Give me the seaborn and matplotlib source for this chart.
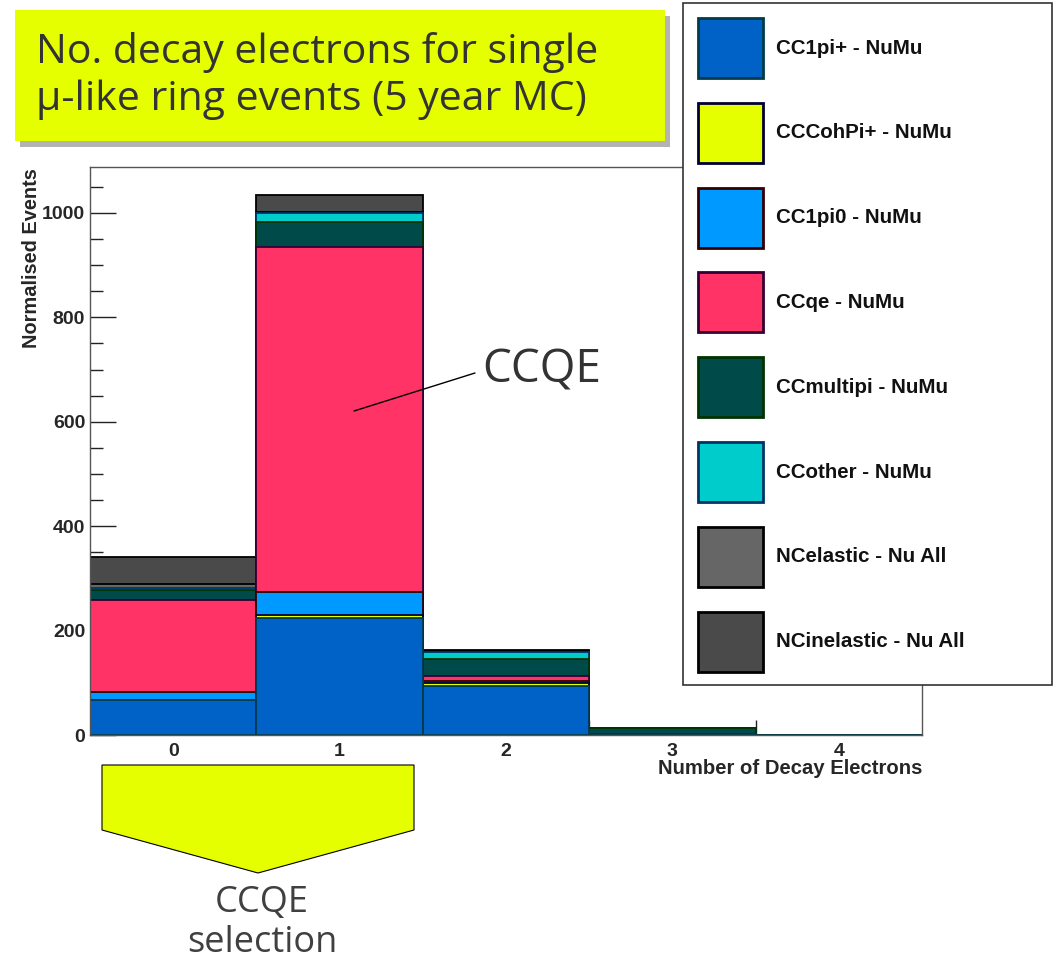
import numpy as np
import pandas as pd
import seaborn as sns
import matplotlib
matplotlib.use("Agg")
import matplotlib.pyplot as plt
from matplotlib.patches import Rectangle, Polygon
from matplotlib.lines import Line2D
from matplotlib.ticker import MultipleLocator, FixedLocator

# ---- data: stacked event counts per number of decay electrons ----
n_decay_e = [0, 1, 2, 3, 4]
cc1pip      = [67, 224, 93, 1, 0]
cccohpip    = [1, 6, 7, 0, 0]
cc1pi0      = [15, 44, 3, 0, 0]
ccqe        = [176, 661, 10, 0, 0]
ccmultipi   = [19, 48, 33, 12, 0]
ccother     = [4, 16, 13, 1, 0]
ncelastic   = [8, 3, 1, 0, 0]
ncinelastic = [51, 33, 2, 0, 0]

modes = ["CC1pi+ - NuMu", "CCCohPi+ - NuMu", "CC1pi0 - NuMu", "CCqe - NuMu",
         "CCmultipi - NuMu", "CCother - NuMu", "NCelastic - Nu All",
         "NCinelastic - Nu All"]
counts = [cc1pip, cccohpip, cc1pi0, ccqe, ccmultipi, ccother, ncelastic, ncinelastic]
fills = ["#0062C6", "#E6FF00", "#0099FF", "#FF3366",
         "#004A4A", "#00CCCC", "#666666", "#4A4A4A"]
edges = ["#003B4A", "#000033", "#330000", "#330033",
         "#003300", "#003366", "#000000", "#000000"]

title_text = "No. decay electrons for single\nμ-like ring events (5 year MC)"
x_label = "Number of Decay Electrons"
y_label = "Normalised Events"

W, H = 1054, 960
sns.set_style("ticks")
plt.rcParams["font.family"] = ["Liberation Sans", "DejaVu Sans"]

fig = plt.figure(figsize=(W / 100, H / 100), dpi=100)


def fx(x):
    return x / W


def fy(y):
    return 1 - y / H


ax = fig.add_axes([fx(90), fy(735), fx(922) - fx(90), fy(167) - fy(735)])

# stacked histogram drawn as cumulative layers, tallest first
df = pd.DataFrame({m: c for m, c in zip(modes, counts)}, index=n_decay_e)
cum = df.cumsum(axis=1)
for i in reversed(range(len(modes))):
    sns.barplot(x=n_decay_e, y=cum[modes[i]].values, color=fills[i],
                edgecolor=edges[i], linewidth=1.3, width=1.0, saturation=1,
                errorbar=None, ax=ax, zorder=2)

ax.set_xlim(-0.5, 4.5)
ax.set_ylim(0, 1088)
ax.xaxis.set_major_locator(FixedLocator(n_decay_e))
ax.set_xticklabels([str(v) for v in n_decay_e])
ax.xaxis.set_minor_locator(FixedLocator([v + 0.5 for v in n_decay_e[:-1]]))
ax.yaxis.set_major_locator(MultipleLocator(200))
ax.yaxis.set_minor_locator(MultipleLocator(50))
ax.tick_params(axis="x", which="major", length=0, pad=6, labelsize=14)
ax.tick_params(axis="x", which="minor", direction="in", length=11, width=1,
               color="#222222")
ax.tick_params(axis="y", which="major", direction="in", length=18.5, width=1,
               pad=3.5, labelsize=14, color="#222222")
ax.tick_params(axis="y", which="minor", direction="in", length=9.5, width=1,
               color="#222222")
for lab in ax.get_xticklabels() + ax.get_yticklabels():
    lab.set_fontweight("bold")
for s in ax.spines.values():
    s.set_linewidth(1.0)
    s.set_color("#555555")
    s.set_zorder(5)
ax.set_xlabel("")
ax.set_ylabel("")

fig.text(fx(922), fy(769), x_label, ha="right", va="center",
         fontsize=14.6, fontweight="bold")
fig.text(fx(32), fy(168), y_label, ha="center", va="top", rotation=90,
         fontsize=14.4, fontweight="bold")

# ---- title box with drop shadow ----
fig.patches.append(Rectangle((fx(20), fy(147)), fx(670) - fx(20), fy(16) - fy(147),
                             transform=fig.transFigure, facecolor="#B3B3B3",
                             edgecolor="none", zorder=1))
fig.patches.append(Rectangle((fx(15), fy(141)), fx(665) - fx(15), fy(10) - fy(141),
                             transform=fig.transFigure, facecolor="#E6FF00",
                             edgecolor="none", zorder=2))
fig.text(fx(36), fy(76), title_text, ha="left", va="center", fontsize=29.5,
         family=["Open Sans", "DejaVu Sans"], color="#333333",
         linespacing=1.2, zorder=3)

# ---- legend panel ----
leg_ax = fig.add_axes([0, 0, 1, 1], zorder=10)
leg_ax.set_xlim(0, W)
leg_ax.set_ylim(H, 0)
leg_ax.axis("off")
leg_ax.add_patch(Rectangle((683, 3), 369, 682, facecolor="white",
                           edgecolor="#333333", linewidth=1.2))
for k, (m, fc, ec) in enumerate(zip(modes, fills, edges)):
    yc = 48 + k * 84.8
    leg_ax.add_patch(Rectangle((698, yc - 30), 65, 60, facecolor=fc,
                               edgecolor=ec, linewidth=2.0))
    leg_ax.text(776, yc, m, ha="left", va="center", fontsize=14.8,
                fontweight="bold", color="#111111")

# ---- CCQE annotation ----
leg_ax.add_line(Line2D([354, 475], [411, 373], color="black", linewidth=1.0))
leg_ax.text(482, 370, "CCQE", ha="left", va="center", fontsize=33,
            family=["Open Sans", "DejaVu Sans"], color="#333333")

# ---- selection arrow ----
leg_ax.add_patch(Polygon([(102, 765), (414, 765), (414, 830), (258, 873),
                          (102, 830)], closed=True, facecolor="#E6FF00",
                         edgecolor="black", linewidth=0.8))
leg_ax.text(262, 923, "CCQE\nselection", ha="center", va="center",
            fontsize=26, family=["Open Sans", "DejaVu Sans"],
            color="#404040", linespacing=1.12)

fig.savefig("out.png", dpi=100)
